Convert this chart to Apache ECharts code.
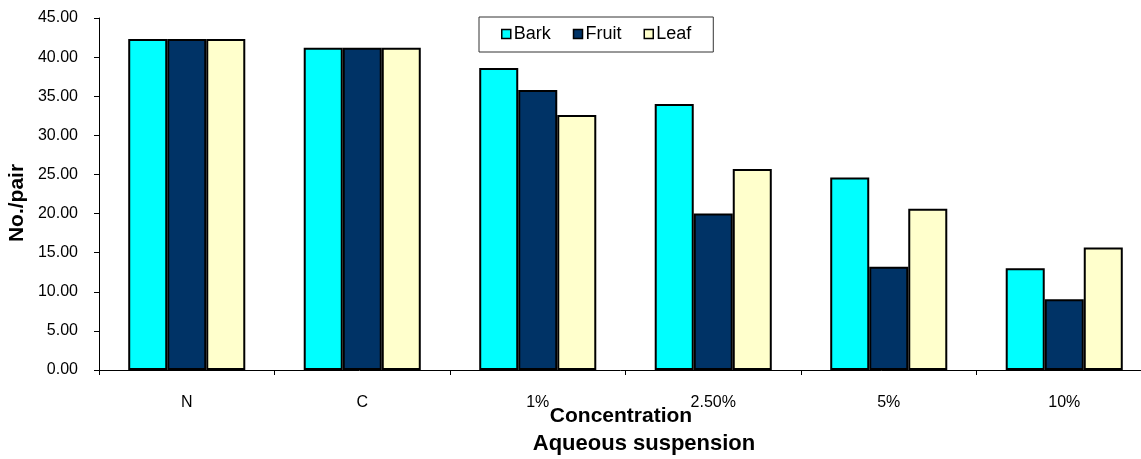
<!DOCTYPE html>
<html>
<head>
<meta charset="utf-8">
<script src="https://cdn.jsdelivr.net/npm/echarts@6/dist/echarts.min.js"></script>
<style>
html,body{margin:0;padding:0;background:#fff;}
#chart{width:1141px;height:459px;}
</style>
</head>
<body>
<div id="chart"></div>
<script>
const categories = ['N', 'C', '1%', '2.50%', '5%', '10%'];
const barkValues = [42.3, 41.2, 38.6, 34.0, 24.6, 13.0];
const fruitValues = [42.3, 41.2, 35.8, 20.0, 13.2, 9.05];
const leafValues = [42.3, 41.2, 32.6, 25.7, 20.6, 15.65];
const yTicks = { min: 0, max: 45, interval: 5 };

const FONT = '"Liberation Sans", Arial, sans-serif';
const chart = echarts.init(document.getElementById('chart'), null, { renderer: 'canvas' });

function barSeries(name, data, color) {
  return {
    name: name,
    type: 'bar',
    data: data,
    barGap: '0%',
    barCategoryGap: '33.3%',
    itemStyle: { color: color, borderColor: '#000', borderWidth: 2 },
    emphasis: { disabled: true }
  };
}

chart.setOption({
  animation: false,
  backgroundColor: '#fff',
  textStyle: { fontFamily: FONT },
  grid: { left: 99, top: 18, width: 1053, height: 352, containLabel: false, outerBoundsMode: 'none' },
  legend: {
    left: 479, top: 17,
    padding: [8, 22, 9, 22],
    borderColor: '#333', borderWidth: 1,
    itemWidth: 9, itemHeight: 9, itemGap: 22,
    selectedMode: false,
    icon: 'rect',
    itemStyle: { borderColor: '#000', borderWidth: 1.5 },
    textStyle: { fontSize: 18, color: '#000', fontFamily: FONT, padding: [0, 0, 0, -2] },
    data: ['Bark', 'Fruit', 'Leaf']
  },
  xAxis: {
    type: 'category',
    data: categories,
    axisLine: { lineStyle: { color: '#000', width: 1 } },
    axisTick: { show: true, length: 5, lineStyle: { color: '#000' } },
    axisLabel: { color: '#000', fontSize: 16, margin: 25, fontFamily: FONT },
    splitLine: { show: false }
  },
  yAxis: {
    type: 'value',
    min: yTicks.min, max: yTicks.max, interval: yTicks.interval,
    axisLine: { show: true, lineStyle: { color: '#000', width: 1 } },
    axisTick: { show: true, length: 5, lineStyle: { color: '#000' } },
    axisLabel: { color: '#000', fontSize: 16, margin: 21, fontFamily: FONT,
      formatter: v => v.toFixed(2) },
    splitLine: { show: false }
  },
  graphic: [
    { type: 'text', x: 17, y: 203, rotation: Math.PI / 2, style: { text: 'No./pair', fill: '#000', font: 'bold 21px ' + FONT, textAlign: 'center', textVerticalAlign: 'middle' } },
    { type: 'text', x: 621, y: 416, style: { text: 'Concentration', fill: '#000', font: 'bold 21px ' + FONT, textAlign: 'center', textVerticalAlign: 'middle' } },
    { type: 'text', x: 644, y: 444, style: { text: 'Aqueous suspension', fill: '#000', font: 'bold 22px ' + FONT, textAlign: 'center', textVerticalAlign: 'middle' } }
  ],
  series: [
    barSeries('Bark', barkValues, '#00FFFF'),
    barSeries('Fruit', fruitValues, '#003366'),
    barSeries('Leaf', leafValues, '#FFFFCC')
  ]
});
</script>
</body>
</html>
